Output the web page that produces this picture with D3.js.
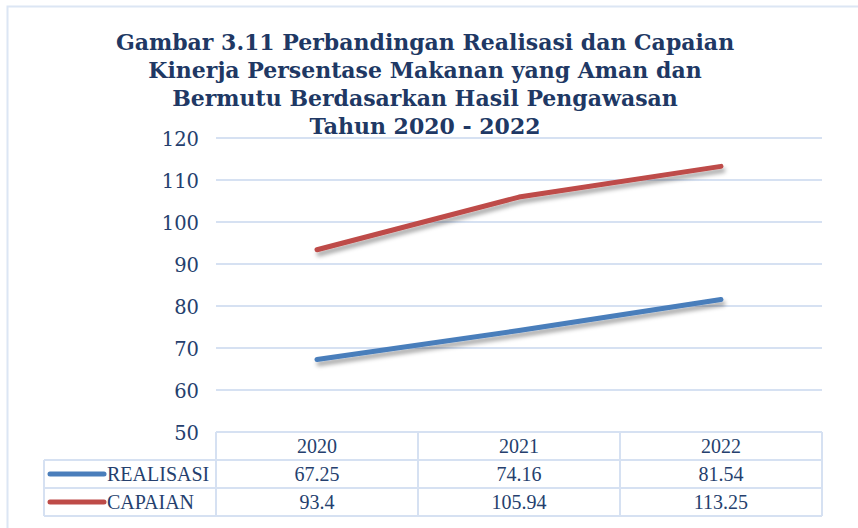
<!DOCTYPE html>
<html>
<head>
<meta charset="utf-8">
<script src="https://cdn.jsdelivr.net/npm/d3@7"></script>
<style>
  body { margin: 0; background: #fff; }
</style>
</head>
<body>
<div class="chart"></div>
<script>
// chart data
var years = ["2020", "2021", "2022"];
var realisasi = [67.25, 74.16, 81.54];
var capaian = [93.4, 105.94, 113.25];
var yTicks = [50, 60, 70, 80, 90, 100, 110, 120];
var titleLines = [
  "Gambar 3.11 Perbandingan Realisasi dan Capaian",
  "Kinerja Persentase Makanan yang Aman dan",
  "Bermutu Berdasarkan Hasil Pengawasan",
  "Tahun 2020 - 2022"
];
var series = [
  { name: "REALISASI", values: realisasi, color: "#4a7ebb" },
  { name: "CAPAIAN", values: capaian, color: "#be4b48" }
];

function init() {
  var w = 858, h = 528;
  var left = 216, right = 822, top = 138, bottom = 432;
  var rowH = 28;
  var gridColor = "#d6e1f2";
  var textColor = "#253f6e";

  var svg = d3.select(".chart").append("svg")
    .attr("width", w)
    .attr("height", h);

  // shadow for the lines
  var defs = svg.append("defs");
  var f = defs.append("filter").attr("id", "shadow")
    .attr("x", "-10%").attr("y", "-50%").attr("width", "120%").attr("height", "200%");
  f.append("feDropShadow")
    .attr("dx", 2).attr("dy", 4)
    .attr("stdDeviation", 2.2)
    .attr("flood-color", "#000")
    .attr("flood-opacity", 0.35);

  // outer frame
  svg.append("rect")
    .attr("x", 7.5).attr("y", 6.5)
    .attr("width", 870).attr("height", 540)
    .attr("fill", "none")
    .attr("stroke", "#dce6f4")
    .attr("stroke-width", 2);

  var xScale = d3.scaleBand().domain(years).range([left, right]);
  var yScale = d3.scaleLinear().domain([50, 120]).range([bottom, top]);

  // gridlines
  svg.append("g").selectAll("line")
    .data(yTicks)
    .enter().append("line")
    .attr("x1", left).attr("x2", right)
    .attr("y1", function (d) { return yScale(d); })
    .attr("y2", function (d) { return yScale(d); })
    .attr("stroke", gridColor)
    .attr("stroke-width", 2);

  // y axis labels
  var yAxis = d3.axisLeft(yScale).tickValues(yTicks).tickSize(0).tickPadding(0);
  var gy = svg.append("g")
    .attr("transform", "translate(199,0)")
    .call(yAxis);
  gy.select(".domain").remove();
  gy.selectAll("text")
    .attr("dy", "0.36em")
    .style("font-family", "'DejaVu Serif', serif")
    .style("font-size", "19.5px")
    .attr("fill", textColor);

  // lines
  var line = d3.line()
    .x(function (d, i) { return xScale(years[i]) + xScale.bandwidth() / 2; })
    .y(function (d) { return yScale(d); });
  series.forEach(function (s) {
    svg.append("path")
      .datum(s.values)
      .attr("fill", "none")
      .attr("stroke", s.color)
      .attr("stroke-width", 5)
      .attr("stroke-linecap", "round")
      .attr("stroke-linejoin", "round")
      .attr("filter", "url(#shadow)")
      .attr("d", line);
  });

  // data table
  var tbl = svg.append("g")
    .attr("stroke", gridColor)
    .attr("stroke-width", 2);
  // horizontal
  tbl.append("line").attr("x1", left).attr("x2", right).attr("y1", bottom).attr("y2", bottom);
  [1, 2, 3].forEach(function (r) {
    tbl.append("line").attr("x1", 44).attr("x2", right)
      .attr("y1", bottom + r * rowH).attr("y2", bottom + r * rowH);
  });
  // vertical
  xScale.domain().forEach(function (yr) {
    tbl.append("line").attr("x1", xScale(yr)).attr("x2", xScale(yr))
      .attr("y1", bottom).attr("y2", bottom + 3 * rowH);
  });
  tbl.append("line").attr("x1", right).attr("x2", right)
    .attr("y1", bottom).attr("y2", bottom + 3 * rowH);
  tbl.append("line").attr("x1", 44).attr("x2", 44)
    .attr("y1", bottom + rowH).attr("y2", bottom + 3 * rowH);

  var cellFont = "'Liberation Serif', 'Times New Roman', serif";
  // header years
  svg.append("g").selectAll("text")
    .data(years)
    .enter().append("text")
    .attr("x", function (d) { return xScale(d) + xScale.bandwidth() / 2; })
    .attr("y", bottom + rowH / 2)
    .attr("dy", "0.35em")
    .attr("text-anchor", "middle")
    .style("font-family", cellFont)
    .style("font-size", "20px")
    .attr("fill", textColor)
    .text(function (d) { return d; });

  // value rows
  series.forEach(function (s, r) {
    var cy = bottom + rowH * (r + 1) + rowH / 2;
    svg.append("line")
      .attr("x1", 50).attr("x2", 104)
      .attr("y1", cy).attr("y2", cy)
      .attr("stroke", s.color)
      .attr("stroke-width", 5)
      .attr("stroke-linecap", "round");
    svg.append("text")
      .attr("x", 107).attr("y", cy)
      .attr("dy", "0.35em")
      .style("font-family", cellFont)
      .style("font-size", "20px")
      .attr("fill", textColor)
      .text(s.name);
    svg.append("g").selectAll("text")
      .data(s.values)
      .enter().append("text")
      .attr("x", function (d, i) { return xScale(years[i]) + xScale.bandwidth() / 2; })
      .attr("y", cy)
      .attr("dy", "0.35em")
      .attr("text-anchor", "middle")
      .style("font-family", cellFont)
      .style("font-size", "20px")
      .attr("fill", textColor)
      .text(function (d) { return d; });
  });

  // title
  svg.append("g").selectAll("text")
    .data(titleLines)
    .enter().append("text")
    .attr("x", 425)
    .attr("y", function (d, i) { return 50 + i * 28; })
    .attr("text-anchor", "middle")
    .style("font-family", "'DejaVu Serif', serif")
    .style("font-weight", "bold")
    .style("font-size", "22px")
    .attr("fill", "#203864")
    .text(function (d) { return d; });
}
window.onload = init;
</script>
</body>
</html>
